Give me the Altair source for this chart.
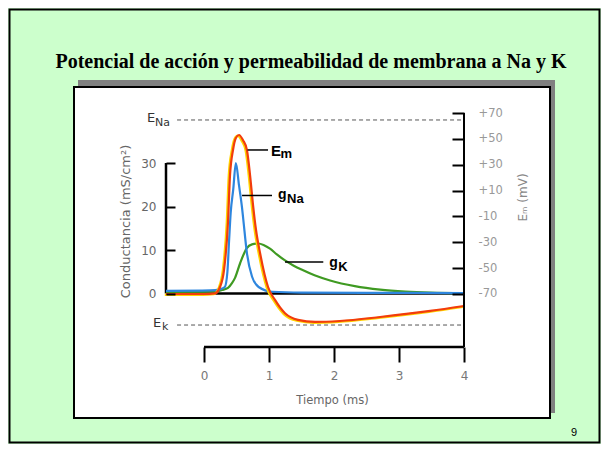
import altair as alt
import pandas as pd

# ---------------- data ----------------
# Membrane potential E_m (mV) vs time (ms)
em_t = [-0.585, 0.0, 0.17, 0.246, 0.308, 0.369, 0.40, 0.446, 0.49, 0.538, 0.60, 0.66, 0.708,
        0.754, 0.80, 0.862, 0.985, 1.092, 1.246, 1.446, 1.708, 2.09, 2.71, 3.48, 4.0]
em_v = [-70, -70, -69.5, -64.6, -51.4, -14.3, 22, 41.4, 50.7, 53, 49, 41.4, 22,
        -1.2, -20.5, -38.3, -64.6, -74.6, -84.9, -90, -91.6, -90.9, -87.8, -83.1, -79.3]

# Sodium conductance g_Na (mS/cm2)
gna_t = [-0.585, 0.1, 0.25, 0.32, 0.36, 0.385, 0.41, 0.45, 0.49, 0.538, 0.585, 0.605, 0.66,
         0.738, 0.84, 1.05, 1.5, 2.5, 4.0]
gna_g = [0.6, 0.7, 1.0, 1.5, 5.0, 12.0, 18.5, 24.0, 30.0, 24.9, 19.7, 16.9, 9.3,
         3.9, 1.5, 0.4, 0.2, 0.15, 0.1]

# Potassium conductance g_K (mS/cm2)
gk_t = [-0.585, 0.17, 0.277, 0.369, 0.43, 0.477, 0.554, 0.656, 0.738, 0.836, 0.923, 1.015,
        1.12, 1.246, 1.38, 1.5, 1.7, 1.94, 2.32, 2.71, 3.1, 3.48, 4.0]
gk_g = [0.35, 0.4, 0.8, 1.3, 2.4, 3.6, 6.9, 10.4, 11.3, 11.5, 11.1, 10.3,
        9.0, 7.6, 6.4, 5.5, 4.2, 3.0, 1.7, 0.9, 0.45, 0.2, 0.05]

# Equilibrium potentials (mV)
eq_v = [64.6, -94.0]
eq_t0 = [-0.415, -0.415]
eq_t1 = [4.0, 4.0]

# Axis ticks
time_ticks = [0, 1, 2, 3, 4]
g_ticks = [0, 10, 20, 30]
mv_ticks = [-70, -50, -30, -10, 10, 30, 50, 70]

# Curve labels (bold): main letter + subscript
lab_text = ["E", "m", "g", "Na", "g", "K"]
lab_t = [1.03, 1.177, 1.138, 1.277, 1.928, 2.067]
lab_v = [36.7, 35.2, 3.5, 0.4, -49.1, -52.6]
lab_size = [15, 13, 14, 13, 14, 13]

# Leader lines of the curve labels
lead_t0 = [0.67, 0.585, 1.246]
lead_t1 = [0.985, 1.046, 1.835]
lead_v = [41.4, 6.2, -45.2]

# Equilibrium labels E_Na, E_k
eqlab_text = ["E", "Na", "E", "k"]
eqlab_t = [-0.877, -0.754, -0.785, -0.646]
eqlab_v = [63.0, 60.3, -95.5, -98.2]
eqlab_size = [13, 11, 13, 11]

title_text = "Potencial de acción y permeabilidad de membrana a Na y K"
page_text = "9"

# ---------------- tables ----------------
df_em = pd.DataFrame({"t": em_t, "v": em_v})
df_gna = pd.DataFrame({"t": gna_t, "g": gna_g})
df_gk = pd.DataFrame({"t": gk_t, "g": gk_g})
df_eq = pd.DataFrame({"t": eq_t0, "t2": eq_t1, "v": eq_v})
df_lab = pd.DataFrame({"t": lab_t, "v": lab_v, "txt": lab_text, "size": lab_size})
df_lead = pd.DataFrame({"t": lead_t0, "t2": lead_t1, "v": lead_v})
df_eqlab = pd.DataFrame({"t": eqlab_t, "v": eqlab_v, "txt": eqlab_text, "size": eqlab_size})
df_gaxis = pd.DataFrame({"t": [-0.585], "g": [0], "g2": [30]})
df_base = pd.DataFrame({"t": [-0.585], "t2": [4.0], "g": [0]})
df_raxis = pd.DataFrame({"t": [4.0], "v": [70], "v2": [-111]})
df_taxis = pd.DataFrame({"t": [0.0], "t2": [4.0], "v": [-111]})
df_one = pd.DataFrame({"k": [0]})

FONT = "DejaVu Sans"

x_scale = alt.Scale(domain=[-0.585, 4], nice=False, zero=False)
g_scale = alt.Scale(domain=[-12.3, 41.5], nice=False, zero=False)
v_scale = alt.Scale(domain=[-111, 70], nice=False, zero=False)

x_axis = alt.Axis(values=time_ticks, domain=False, grid=False, tickSize=15, tickWidth=2,
                  tickColor="black", labelFont=FONT, labelFontSize=12, labelColor="#777",
                  labelPadding=8, labelFlush=False, labelOverlap=False,
                  title="Tiempo (ms)", titleFont=FONT, titleFontSize=11.5,
                  titleFontWeight="normal", titleColor="#666", titleX=166, titleY=53,
                  titleBaseline="middle", titleAlign="center", zindex=1)

g_axis = alt.Axis(orient="left", values=g_ticks, offset=-9, domain=False, grid=False,
                  tickSize=9, tickWidth=2, tickColor="black", labelFont=FONT,
                  labelFontSize=12, labelColor="#666", labelPadding=10, labelFlush=False,
                  labelOverlap=False, title="Conductancia (mS/cm²)", titleFont=FONT,
                  titleFontSize=13, titleFontWeight="normal", titleColor="#666",
                  titleX=-50, titleY=108, titleAngle=270, titleBaseline="middle",
                  titleAlign="center", zindex=1)

v_axis = alt.Axis(orient="right", values=mv_ticks, offset=-12, domain=False, grid=False,
                  tickSize=12, tickWidth=2, tickColor="black",
                  labelExpr="(datum.value > 0 ? '+' : '-') + abs(datum.value)",
                  labelFont=FONT, labelFontSize=11.5, labelColor="#999", labelPadding=14,
                  labelFlush=False, labelOverlap=False, title="Eₘ (mV)", titleFont=FONT,
                  titleFontSize=12, titleFontWeight="normal", titleColor="#888",
                  titleX=70, titleY=84, titleAngle=270, titleBaseline="middle",
                  titleAlign="center", zindex=1)

X = alt.X("t:Q", scale=x_scale, axis=x_axis)
YG = alt.Y("g:Q", scale=g_scale, axis=g_axis)
YV = alt.Y("v:Q", scale=v_scale, axis=v_axis)

# ---------------- decoration (slide) ----------------
base1 = alt.Chart(df_one)
border = base1.mark_rect(fillOpacity=0, stroke="black", strokeWidth=2).encode(
    x=alt.value(-156.5), x2=alt.value(433.5), y=alt.value(-103.5), y2=alt.value(329.5))
shadow = base1.mark_rect(color="#808080").encode(
    x=alt.value(-88), x2=alt.value(389), y=alt.value(-33), y2=alt.value(300))
box = base1.mark_rect(fill="white", stroke="black", strokeWidth=2).encode(
    x=alt.value(-92), x2=alt.value(384), y=alt.value(-26), y2=alt.value(305))
title = base1.mark_text(font="Liberation Serif", fontWeight="bold", fontSize=20,
                        align="center", baseline="alphabetic", color="black").encode(
    x=alt.value(145), y=alt.value(-45), text=alt.value(title_text))
page = base1.mark_text(font="Liberation Sans", fontSize=11, align="center",
                       baseline="alphabetic", color="black").encode(
    x=alt.value(408), y=alt.value(323), text=alt.value(page_text))
decor = alt.layer(border, shadow, box, title, page)

# ---------------- conductance layer (left axis) ----------------
baseline = alt.Chart(df_base).mark_rule(color="black", strokeWidth=2.5).encode(
    x=X, x2="t2:Q", y=YG)
gaxis_line = alt.Chart(df_gaxis).mark_rule(color="black", strokeWidth=2.5).encode(
    x=X, y=YG, y2="g2:Q")
gk_line = alt.Chart(df_gk).mark_line(color="#3F9A22", strokeWidth=2.2,
                                     interpolate="monotone").encode(x=X, y=YG)
gna_line = alt.Chart(df_gna).mark_line(color="#2E86DE", strokeWidth=2.2,
                                       interpolate="monotone").encode(x=X, y=YG)
g_layer = alt.layer(baseline, gaxis_line, gk_line, gna_line)

# ---------------- potential layer (right axis) ----------------
eq_lines = alt.Chart(df_eq).mark_rule(color="#555", strokeWidth=1, strokeDash=[4, 3]).encode(
    x=X, x2="t2:Q", y=YV)
em_halo = alt.Chart(df_em).mark_line(color="#FFD400", strokeWidth=2.4, xOffset=-1.2,
                                     yOffset=0.8, interpolate="monotone").encode(x=X, y=YV)
em_line = alt.Chart(df_em).mark_line(color="#F23C0C", strokeWidth=2.2,
                                     interpolate="monotone").encode(x=X, y=YV)
raxis_line = alt.Chart(df_raxis).mark_rule(color="black", strokeWidth=2).encode(
    x=X, y=YV, y2="v2:Q")
taxis_line = alt.Chart(df_taxis).mark_rule(color="black", strokeWidth=2.5).encode(
    x=X, x2="t2:Q", y=YV)
leaders = alt.Chart(df_lead).mark_rule(color="black", strokeWidth=1.5).encode(
    x=X, x2="t2:Q", y=YV)
labels = alt.Chart(df_lab).mark_text(font="Liberation Sans", fontWeight="bold", align="left",
                                     baseline="alphabetic", color="black").encode(
    x=X, y=YV, text="txt:N", size=alt.Size("size:Q", scale=None))
eqlabels = alt.Chart(df_eqlab).mark_text(font=FONT, align="left", baseline="alphabetic",
                                         color="#333").encode(
    x=X, y=YV, text="txt:N", size=alt.Size("size:Q", scale=None))
v_layer = alt.layer(eq_lines, em_halo, em_line, raxis_line, taxis_line, leaders, labels,
                    eqlabels)

chart = alt.layer(decor, g_layer, v_layer).resolve_scale(y="independent").properties(
    width=298, height=234,
    padding={"left": 158, "top": 105, "right": 137, "bottom": 97},
    autosize=alt.AutoSizeParams(type="none"),
    background="#CCFFCC",
).configure_view(strokeWidth=0)

chart.save("out.html", embed_options={"renderer": "svg", "actions": False})
